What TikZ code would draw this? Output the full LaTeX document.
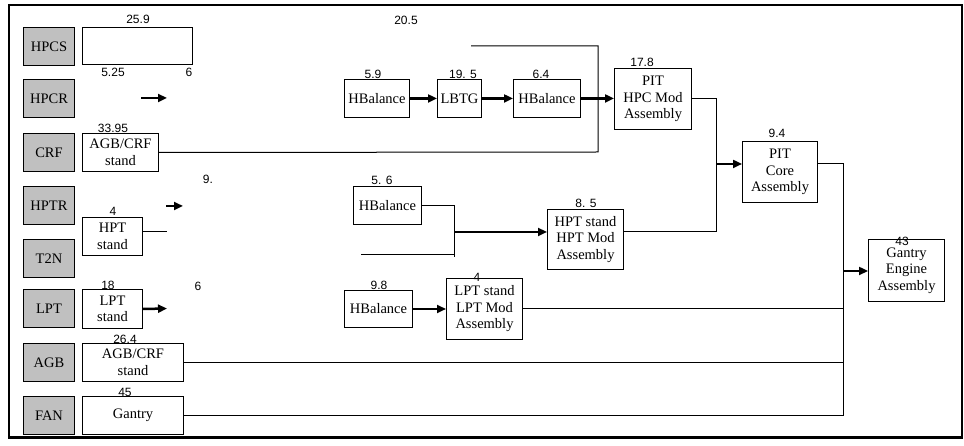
\documentclass[tikz,border=0pt]{standalone}
\usepackage{fontspec}
\setmainfont{Liberation Serif}
\newfontfamily\numfont{Liberation Sans}
\usetikzlibrary{arrows.meta}
\definecolor{boxgray}{RGB}{192,192,192}
\begin{document}
\begin{tikzpicture}[x=1pt,y=-1pt,
 box/.style={draw,line width=1pt,anchor=north west,inner sep=0pt,align=center,font=\fontsize{14.5}{16.5}\selectfont},
 gbox/.style={box,fill=boxgray,minimum width=51pt,minimum height=38pt},
 num/.style={font=\numfont\fontsize{12}{13}\selectfont,inner sep=0pt},
 conn/.style={line width=1pt},
 arr/.style={line width=2.5pt,-{Triangle[length=9pt,width=8pt]}}]
\useasboundingbox (0,0) rectangle (964,446);
\draw[line width=2.5pt] (9,5) rectangle (962,437.5);
% gray column
\node[gbox] (g1) at (23,27) {HPCS};
\node[gbox] (g2) at (23,79) {HPCR};
\node[gbox] (g3) at (23,133) {CRF};
\node[gbox] (g4) at (23,186) {HPTR};
\node[gbox] (g5) at (23,239) {T2N};
\node[gbox] (g6) at (23,289) {LPT};
\node[gbox] (g7) at (23,343) {AGB};
\node[gbox] (g8) at (23,396) {FAN};
% first column boxes
\node[box,minimum width=110pt,minimum height=37pt] (hpcs) at (82,27) {};
\node[num] (n259) at (138,19) {25.9};
\node[num] (n525) at (113,72) {5.25};
\node[num] (n6a) at (189,72) {6};
\coordinate (a1s) at (141,98);
\coordinate (a1e) at (167,98);
\draw[arr] (a1s) -- (a1e);
\node[box,minimum width=76pt,minimum height=38pt] (crf) at (82,133) {AGB/CRF\\stand};
\node[num] (n3395) at (113,128) {33.95};
\coordinate (c1) at (598,152);
\coordinate (c2) at (598,46);
\coordinate (c3) at (471,46);
\draw[conn] (crf.east) -- (c1) -- (c2) -- (c3);
\node[num] (n205) at (406,20) {20.5};
\node[num] (n9) at (208,179) {9.};
\coordinate (a2s) at (166,206);
\coordinate (a2e) at (183,206);
\draw[arr] (a2s) -- (a2e);
\node[box,minimum width=60pt,minimum height=38pt] (hpt) at (82,217) {HPT\\stand};
\node[num] (n4a) at (113,211) {4};
\coordinate (hpte) at (167,232);
\draw[conn] (hpt.east |- hpte) -- (hpte);
\node[num] (n6b) at (198,286) {6};
\node[box,minimum width=60pt,minimum height=39pt] (lpt) at (82,289) {LPT\\stand};
\node[num] (n18) at (108,285) {18};
\coordinate (lpte) at (167,308.5);
\draw[arr] (lpt.east) -- (lpte);
\node[box,minimum width=101pt,minimum height=38pt] (agb) at (82,343) {AGB/CRF\\stand};
\node[num] (n264) at (125,339) {26.4};
\node[box,minimum width=101pt,minimum height=38pt] (gan) at (82,396) {Gantry};
\node[num] (n45) at (125,392) {45};
% HPC chain
\node[box,minimum width=65pt,minimum height=38pt] (hb1) at (344,79) {HBalance};
\node[num] (n59) at (373,74) {5.9};
\node[box,minimum width=44pt,minimum height=38pt] (lbtg) at (437,79) {LBTG};
\node[num] (n195) at (463,74) {19. 5};
\node[box,minimum width=67pt,minimum height=38pt] (hb2) at (513,79) {HBalance};
\node[num] (n64) at (541,74) {6.4};
\node[box,minimum width=77pt,minimum height=61pt] (pithpc) at (614,68) {PIT\\HPC Mod\\Assembly};
\node[num] (n178) at (642,62) {17.8};
\draw[arr] (hb1.east) -- (lbtg.west);
\draw[arr] (lbtg.east) -- (hb2.west);
\draw[arr] (hb2.east) -- (pithpc.west |- hb2.east);
% core
\node[box,minimum width=75pt,minimum height=61pt] (pitcore) at (742,141) {PIT\\Core\\Assembly};
\node[num] (n94) at (777,133) {9.4};
\coordinate (j1) at (716,164);
\coordinate (j2) at (716,232);
\draw[conn] (pithpc.east |- hb2.east) -| (j2);
\draw[arr] (j1) -- (pitcore.west |- j1);
% HPT chain
\node[box,minimum width=68pt,minimum height=38pt] (hb3) at (353,186) {HBalance};
\node[num] (n56) at (382,180) {5. 6};
\node[box,minimum width=76pt,minimum height=60pt] (hptmod) at (547,209) {HPT stand\\HPT Mod\\Assembly};
\node[num] (n85) at (586,203) {8. 5};
\coordinate (k1) at (454,206);
\coordinate (k2) at (454,257);
\coordinate (k3) at (361,255);
\coordinate (k4) at (454,232);
\draw[conn] (hb3.east |- k1) -- (k1) -- (k2);
\draw[conn] (k3) -- (k3 -| k1);
\draw[arr] (k4) -- (hptmod.west |- k4);
\draw[conn] (hptmod.east |- k4) -- (j2);
% LPT chain
\node[box,minimum width=68pt,minimum height=37pt] (hb4) at (344,290) {HBalance};
\node[num] (n98) at (379,285) {9.8};
\node[box,minimum width=76pt,minimum height=61pt] (lptmod) at (446,278) {LPT stand\\LPT Mod\\Assembly};
\node[num] (n4b) at (477,277) {4};
\draw[arr] (hb4.east) -- (lptmod.west |- hb4.east);
% gantry engine
\node[box,minimum width=76pt,minimum height=62pt] (geng) at (868,239) {Gantry\\Engine\\Assembly};
\node[num] (n43) at (902,241) {43};
\coordinate (m1) at (843,164);
\coordinate (m2) at (843,416);
\coordinate (m3) at (843,271);
\draw[conn] (pitcore.east |- m1) -- (m1) -- (m2);
\draw[arr] (m3) -- (geng.west |- m3);
\draw[conn] (lptmod.east) -- (lptmod.east -| m1);
\draw[conn] (agb.east) -- (agb.east -| m1);
\draw[conn] (gan.east) -- (gan.east -| m1);
\end{tikzpicture}
\end{document}
